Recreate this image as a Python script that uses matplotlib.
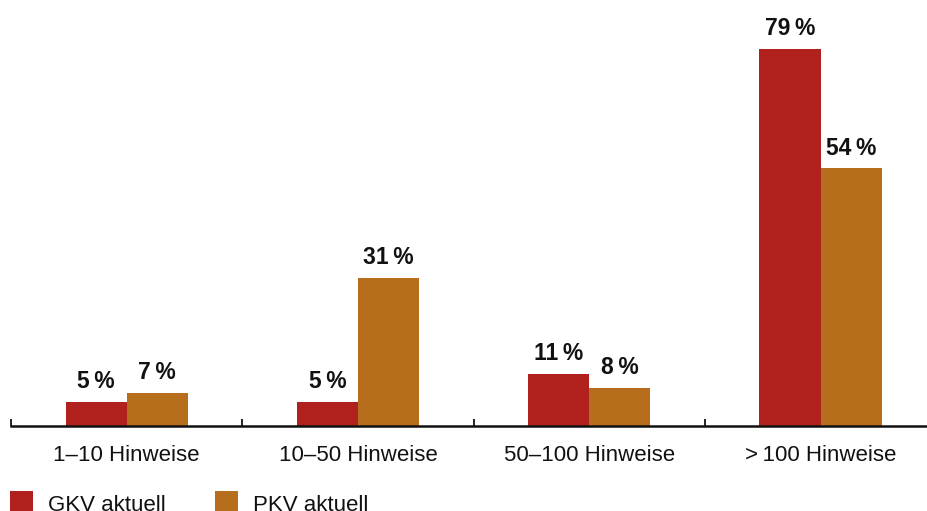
import matplotlib
matplotlib.use("Agg")
import matplotlib.pyplot as plt
import numpy as np

plt.rcParams['font.family'] = ['Liberation Sans', 'DejaVu Sans']

categories = ["1\u201310 Hinweise", "10\u201350 Hinweise", "50\u2013100 Hinweise", ">\u2009100 Hinweise"]
gkv = [5, 5, 11, 79]
pkv = [7, 31, 8, 54]
series_names = ["GKV aktuell", "PKV aktuell"]
colors = ["#B0201C", "#B66E1C"]

W, H = 927, 511
fig = plt.figure(figsize=(W / 100, H / 100), dpi=100)
ax = fig.add_axes([11 / W, (H - 426) / H, (W - 11) / W, 426 / H])

x = np.arange(len(categories))
bw = 0.264
b1 = ax.bar(x - bw / 2, gkv, bw, color=colors[0], label=series_names[0])
b2 = ax.bar(x + bw / 2, pkv, bw, color=colors[1], label=series_names[1])

for bars, vals in ((b1, gkv), (b2, pkv)):
    for rect, v in zip(bars, vals):
        ax.annotate(f"{v}\u2009%", (rect.get_x() + rect.get_width() / 2, v),
                    xytext=(0, 10), textcoords="offset points",
                    ha="center", va="baseline", fontsize=16.5, fontweight="bold",
                    color="#111111")

for s in ("top", "right", "left"):
    ax.spines[s].set_visible(False)
ax.spines["bottom"].set_linewidth(1.8)
ax.spines["bottom"].set_color("#111111")
ax.set_yticks([])

# group boundaries as short inward ticks, category names centred between them
ax.set_xticks(np.arange(len(categories) + 1) - 0.5, minor=False)
ax.set_xticklabels([])
ax.tick_params(axis="x", which="major", direction="in", length=5, width=1.3, color="#111111")
ax.set_xticks(x, minor=True)
ax.set_xticklabels(categories, minor=True, fontsize=16, color="#111111")
ax.tick_params(axis="x", which="minor", length=0, pad=13.5)

ax.set_xlim(-0.5, -0.5 + (W - 11) / 231.3)
ax.set_ylim(0, 426 / 4.77)

fig.legend(handles=[b1, b2], loc="upper left", bbox_to_anchor=(10 / W, (H - 491) / H),
           ncol=2, frameon=False, fontsize=16, handlelength=1.04, handleheight=1.3,
           handletextpad=0.68, columnspacing=2.2, borderaxespad=0, borderpad=0.0,
           labelcolor="#111111")

fig.savefig("out.png", dpi=100)
